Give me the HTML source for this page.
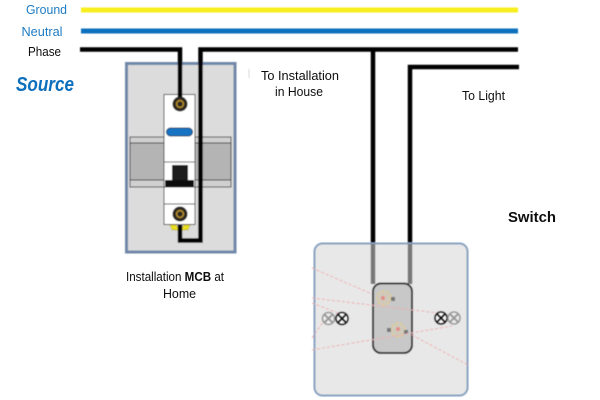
<!DOCTYPE html>
<html><head><meta charset="utf-8"><style>
html,body{margin:0;padding:0;background:#fff}
svg{display:block}
text{font-family:"Liberation Sans",sans-serif}
</style></head><body>
<svg width="600" height="400" viewBox="0 0 600 400" xmlns="http://www.w3.org/2000/svg">
<defs>
<filter id="b" x="-5%" y="-5%" width="110%" height="110%"><feGaussianBlur stdDeviation="0.5"/></filter>
<filter id="t" x="-5%" y="-20%" width="110%" height="140%"><feGaussianBlur stdDeviation="0.25"/></filter>
</defs>
<rect width="600" height="400" fill="#fff"/>
<g filter="url(#b)">
<!-- MCB enclosure -->
<rect x="126.500" y="63.500" width="108.500" height="188.500" fill="#dcdcdc" stroke="#6f87a8" stroke-width="3"/>
<!-- DIN rail -->
<rect x="130" y="137" width="101" height="50" fill="#d0d0d0" stroke="#444" stroke-width="1"/>
<rect x="130" y="143" width="101" height="37" fill="#b4b4b4" stroke="#333" stroke-width="1"/>
<!-- MCB -->
<rect x="164" y="94.500" width="31" height="130" fill="#fff" stroke="#444" stroke-width="1"/>
<rect x="166.500" y="128" width="26" height="8" rx="4" fill="#1473c4" stroke="#173f66" stroke-width="1"/>
<rect x="164" y="162" width="31" height="25" fill="#fff" stroke="#555" stroke-width="1"/>
<rect x="172" y="165" width="16" height="15" fill="#1a1a1a"/>
<rect x="165" y="180" width="29" height="7" fill="#111"/>
<line x1="164" y1="204" x2="195" y2="204" stroke="#444" stroke-width="1"/>
<path d="M170 225h6l2 3h4l2-3h6l-2 5h-16z" fill="#e8de20" stroke="#a89a10" stroke-width=".5"/>
<!-- screws -->
<circle cx="180" cy="104" r="7.500" fill="#2a2620"/>
<circle cx="180" cy="104" r="3.400" fill="none" stroke="#b08a2a" stroke-width="1.600"/>
<circle cx="180" cy="214" r="7.500" fill="#2a2620"/>
<circle cx="180" cy="214" r="3.400" fill="none" stroke="#b08a2a" stroke-width="1.600"/>
<!-- rails -->
<rect x="81" y="7.500" width="437" height="5" fill="#f8ee1e"/>
<rect x="81" y="28.500" width="437" height="5" fill="#0b6fbd"/>
<path d="M80 49.500H180V97" fill="none" stroke="#000" stroke-width="4.500"/>
<path d="M518 49.500H200.500V240.500H180V225" fill="none" stroke="#000" stroke-width="4.500"/>
<path d="M519 67H410V244" fill="none" stroke="#000" stroke-width="4.500"/>
<line x1="373" y1="49" x2="373" y2="244" stroke="#000" stroke-width="4.500"/>
<line x1="249" y1="69" x2="249" y2="78" stroke="#d8d8d8" stroke-width="1"/>
<!-- switch plate -->
<rect x="314.500" y="243.500" width="153" height="152" rx="8" fill="#e8e8e8" stroke="#86a0c0" stroke-width="2"/>
<line x1="373" y1="244" x2="373" y2="284" stroke="#777" stroke-width="4.500"/>
<line x1="410" y1="244" x2="410" y2="284" stroke="#777" stroke-width="4.500"/>
<!-- rocker -->
<rect x="373" y="283.500" width="39" height="69.500" rx="8" fill="#c8c8c8" stroke="#333" stroke-width="2"/>
<circle cx="384" cy="298" r="7" fill="#d0cabb" stroke="#e0cc90" stroke-width="1.500" stroke-dasharray="3 2"/>
<circle cx="398" cy="330" r="7" fill="#d0cabb" stroke="#e0cc90" stroke-width="1.500" stroke-dasharray="3 2"/>
<circle cx="383" cy="298" r="2" fill="#e58a8a"/>
<circle cx="398" cy="329" r="2" fill="#e58a8a"/>
<rect x="391" y="297" width="4" height="4" fill="#777"/>
<rect x="387" y="328" width="4" height="4" fill="#777"/>
<rect x="404" y="330" width="4" height="4" fill="#777"/>
<!-- dashed ghost lines -->
<g stroke="#eeaeb0" stroke-width="1" stroke-dasharray="3 2" fill="none">
<path d="M312 268L372 294"/>
<path d="M312 298L438 313"/>
<path d="M312 303L338 313"/>
<path d="M312 338L323 322"/>
<path d="M312 350L452 326"/>
<path d="M412 335L468 365"/>
</g>
<!-- terminals -->
<g>
<circle cx="328.500" cy="318.500" r="6" fill="#eee" stroke="#999" stroke-width="1.600"/>
<path d="M324.500 314.500l8 8M332.500 314.500l-8 8" stroke="#999" stroke-width="2"/>
<circle cx="342" cy="318.500" r="6" fill="#fff" stroke="#111" stroke-width="1.800"/>
<path d="M338 314.500l8 8M346 314.500l-8 8" stroke="#111" stroke-width="2.200"/>
<circle cx="441" cy="318" r="6" fill="#fff" stroke="#111" stroke-width="1.800"/>
<path d="M437 314l8 8M445 314l-8 8" stroke="#111" stroke-width="2.200"/>
<circle cx="454" cy="318" r="6" fill="#eee" stroke="#999" stroke-width="1.600"/>
<path d="M450 314l8 8M458 314l-8 8" stroke="#999" stroke-width="2"/>
</g>
</g>
<!-- labels -->
<g filter="url(#t)">
<g font-size="12.500" fill="#111">
<text x="26" y="14" fill="#1f7cc4" textLength="41" lengthAdjust="spacingAndGlyphs">Ground</text>
<text x="21.500" y="36" fill="#1f7cc4" textLength="41" lengthAdjust="spacingAndGlyphs">Neutral</text>
<text x="28" y="56" textLength="33" lengthAdjust="spacingAndGlyphs">Phase</text>
<text x="261" y="80" textLength="78" lengthAdjust="spacingAndGlyphs">To Installation</text>
<text x="275" y="96" textLength="48" lengthAdjust="spacingAndGlyphs">in House</text>
<text x="462" y="100" textLength="43" lengthAdjust="spacingAndGlyphs">To Light</text>
<text x="126" y="281" textLength="98" lengthAdjust="spacingAndGlyphs">Installation <tspan font-weight="bold">MCB</tspan> at</text>
<text x="163" y="298" textLength="33" lengthAdjust="spacingAndGlyphs">Home</text>
</g>
<text x="16" y="91" font-size="20" font-weight="bold" font-style="italic" fill="#0b6fbd" textLength="58" lengthAdjust="spacingAndGlyphs">Source</text>
<text x="508" y="222" font-size="15" font-weight="bold" fill="#111" textLength="48" lengthAdjust="spacingAndGlyphs">Switch</text>
</g>
</svg>
</body></html>
